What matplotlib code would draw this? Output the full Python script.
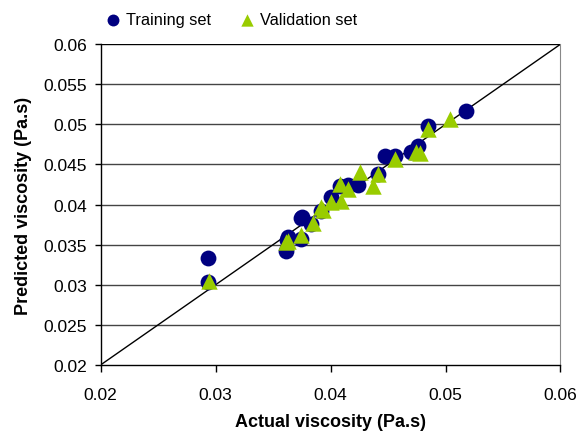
import matplotlib.pyplot as plt

plt.rcParams['font.family'] = ['Liberation Sans', 'DejaVu Sans']

# actual vs predicted viscosity (Pa.s)
train_actual = [0.0293, 0.0293, 0.0361, 0.0362, 0.0363, 0.0374, 0.0374, 0.0375,
                0.0383, 0.0392, 0.0400, 0.0408, 0.0415, 0.0424, 0.0441, 0.0447,
                0.0456, 0.0470, 0.0476, 0.0485, 0.0518]
train_pred = [0.0333, 0.0303, 0.0342, 0.0356, 0.0360, 0.0357, 0.0383, 0.0384,
              0.0376, 0.0392, 0.0409, 0.0423, 0.0425, 0.0425, 0.0438, 0.0460,
              0.0460, 0.0465, 0.0473, 0.0498, 0.0517]

val_actual = [0.0294, 0.0361, 0.0363, 0.0374, 0.0385, 0.0393, 0.0392, 0.0400,
              0.0409, 0.0408, 0.0415, 0.0426, 0.0437, 0.0441, 0.0456, 0.0474,
              0.0478, 0.0485, 0.0504]
val_pred = [0.0305, 0.0353, 0.0355, 0.0362, 0.0377, 0.0393, 0.0397, 0.0403,
            0.0404, 0.0426, 0.0419, 0.0440, 0.0423, 0.0438, 0.0457, 0.0465,
            0.0464, 0.0494, 0.0507]

ticks = [0.02, 0.025, 0.03, 0.035, 0.04, 0.045, 0.05, 0.055, 0.06]
xticks = [0.02, 0.03, 0.04, 0.05, 0.06]

fig = plt.figure(figsize=(5.79, 4.35), dpi=100)
ax = fig.add_axes([0.174, 0.159, 0.794, 0.737])

for t in ticks[1:]:
    ax.axhline(t, color='black' if t == 0.06 else '#444444', lw=1.0, zorder=1)

ax.plot([0.02, 0.06], [0.02, 0.06], color='black', lw=1.0, zorder=2)

ax.scatter(train_actual, train_pred, s=130, marker='o', color='#000080',
           linewidths=0, zorder=3, label='Training set')
ax.scatter(val_actual, val_pred, s=140, marker='^', color='#99CC00',
           linewidths=0, zorder=4, label='Validation set')

ax.set_xlim(0.02, 0.06)
ax.set_ylim(0.02, 0.06)
ax.set_xticks(xticks)
ax.set_yticks(ticks)
ax.set_xticklabels(['0.02', '0.03', '0.04', '0.05', '0.06'])
ax.set_yticklabels(['0.02', '0.025', '0.03', '0.035', '0.04', '0.045',
                    '0.05', '0.055', '0.06'])
ax.tick_params(axis='x', direction='out', length=5, width=1, labelsize=12.5, pad=11)
ax.tick_params(axis='y', direction='out', length=4, width=1, labelsize=12.5, pad=6)

ax.spines['top'].set_visible(False)
ax.spines['right'].set_color('#888888')
ax.spines['left'].set_linewidth(1.0)
ax.spines['bottom'].set_linewidth(1.0)

ax.set_xlabel('Actual viscosity (Pa.s)', fontsize=13, fontweight='bold', labelpad=8)
ax.set_ylabel('Predicted viscosity (Pa.s)', fontsize=13, fontweight='bold', labelpad=8)

fig.legend(*ax.get_legend_handles_labels(), loc='center left',
           bbox_to_anchor=(0.1865, 0.952), ncol=2, frameon=False,
           fontsize=11.75, handlelength=0.6, handletextpad=0.5,
           columnspacing=1.9, markerscale=0.75, borderpad=0, borderaxespad=0)

fig.savefig('out.png', dpi=100)
